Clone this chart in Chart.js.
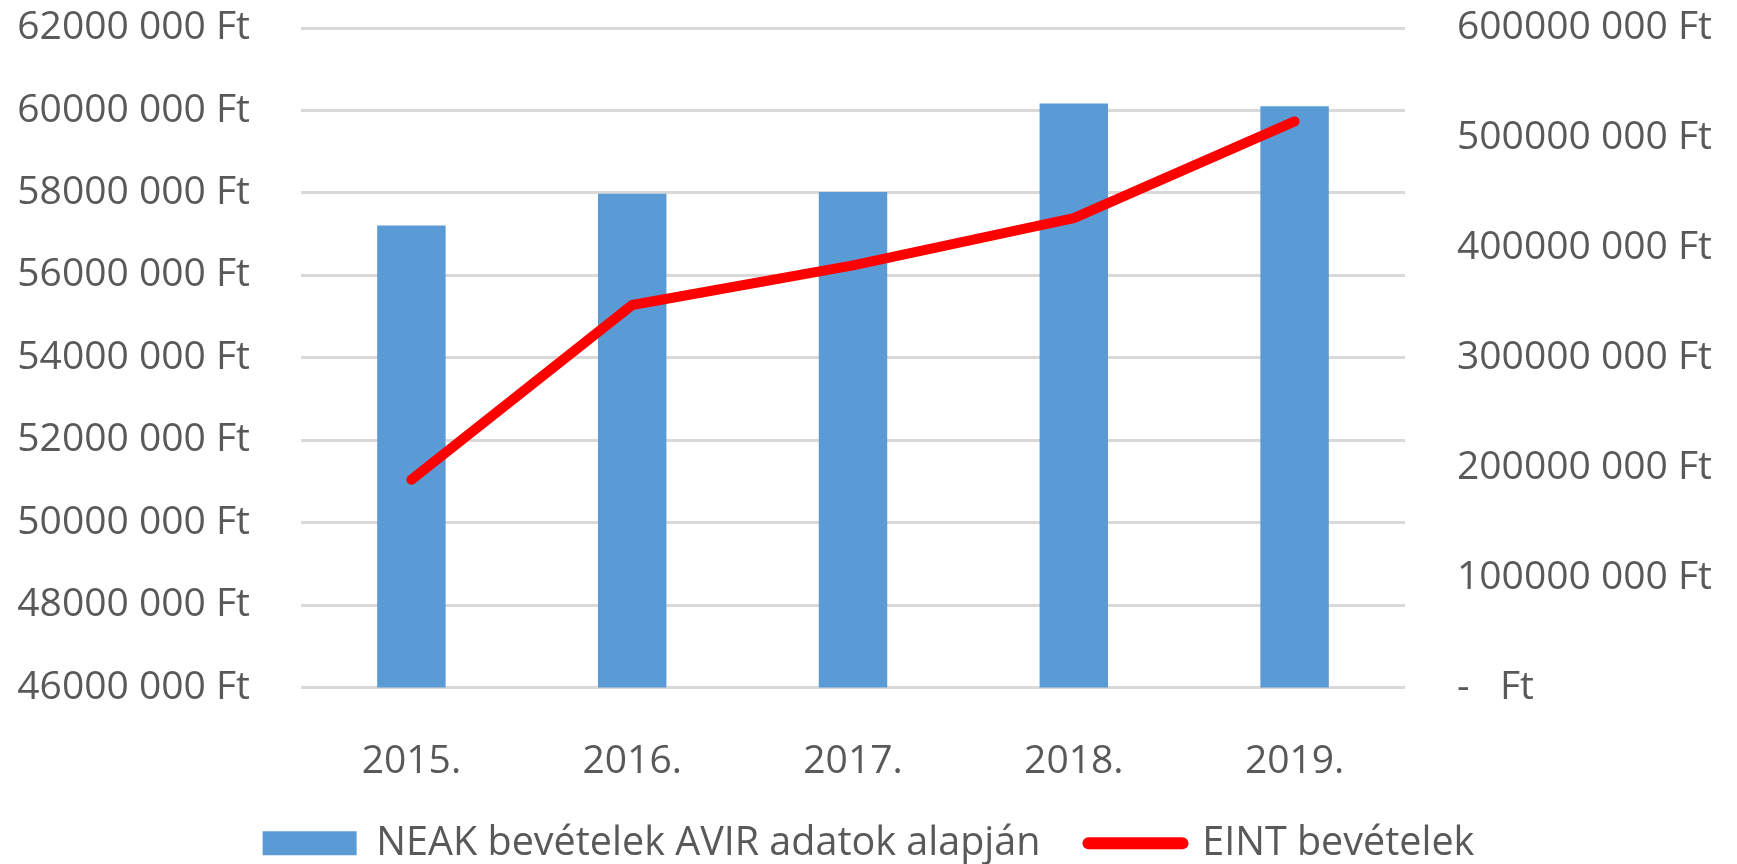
<!DOCTYPE html>
<html>
<head>
<meta charset="utf-8">
<script src="https://cdn.jsdelivr.net/npm/chart.js@4"></script>
<style>
  html, body { margin: 0; padding: 0; background: #ffffff; }
  #wrap { width: 1737px; height: 864px; position: relative; }
</style>
</head>
<body>
<div id="wrap"><canvas id="c" width="1737" height="864"></canvas></div>
<script>
// ---- data ----
const categories = ['2015.', '2016.', '2017.', '2018.', '2019.'];
const neakValues = [57210000, 57980000, 58020000, 60170000, 60100000];
const eintValues = [189000000, 348000000, 384000000, 427000000, 515000000];
const seriesNames = ['NEAK bevételek AVIR adatok alapján', 'EINT bevételek'];
const leftTickLabels = ['46000 000 Ft', '48000 000 Ft', '50000 000 Ft', '52000 000 Ft', '54000 000 Ft',
                        '56000 000 Ft', '58000 000 Ft', '60000 000 Ft', '62000 000 Ft'];
const rightTickLabels = ['-   Ft', '100000 000 Ft', '200000 000 Ft', '300000 000 Ft',
                         '400000 000 Ft', '500000 000 Ft', '600000 000 Ft'];

const BAR_COLOR = '#5B9BD5';
const LINE_COLOR = '#FF0000';
const TEXT_COLOR = '#595959';
const GRID_COLOR = '#D9D9D9';
const FONT = 'Open Sans';
const TRANSPARENT = 'rgba(0,0,0,0)';

Chart.defaults.font.family = FONT;
Chart.defaults.color = TEXT_COLOR;

new Chart(document.getElementById('c'), {
  type: 'bar',
  data: {
    labels: categories,
    datasets: [
      {
        type: 'bar',
        label: seriesNames[0],
        data: neakValues,
        backgroundColor: BAR_COLOR,
        borderWidth: 0,
        yAxisID: 'y',
        categoryPercentage: 1.0,
        barPercentage: 0.31,
        order: 2
      },
      {
        type: 'line',
        label: seriesNames[1],
        data: eintValues,
        borderColor: LINE_COLOR,
        backgroundColor: LINE_COLOR,
        borderWidth: 10,
        borderCapStyle: 'round',
        borderJoinStyle: 'round',
        pointRadius: 0,
        tension: 0,
        yAxisID: 'y1',
        order: 1
      }
    ]
  },
  options: {
    responsive: false,
    animation: false,
    layout: { padding: { top: 28, bottom: -9, left: 0, right: 0 } },
    plugins: {
      tooltip: { enabled: false },
      legend: {
        position: 'bottom',
        labels: {
          usePointStyle: true,
          pointStyleWidth: 94,
          boxHeight: 24,
          padding: 48,
          color: TEXT_COLOR,
          font: { size: 39.5, family: FONT },
          generateLabels: function(chart) {
            return [
              { text: seriesNames[0], fillStyle: BAR_COLOR, strokeStyle: BAR_COLOR, lineWidth: 0,
                pointStyle: 'rect', datasetIndex: 0, hidden: false, fontColor: TEXT_COLOR },
              { text: seriesNames[1], fillStyle: LINE_COLOR, strokeStyle: LINE_COLOR, lineWidth: 12,
                lineCap: 'round', pointStyle: 'line', datasetIndex: 1, hidden: false, fontColor: TEXT_COLOR }
            ];
          }
        }
      }
    },
    scales: {
      x: {
        grid: { display: false, drawTicks: false },
        border: { display: false },
        ticks: { padding: 51, color: TEXT_COLOR, font: { size: 39, family: FONT } },
        afterFit: function(scale) { scale.height = 88; }
      },
      y: {
        position: 'left',
        min: 46000000,
        max: 62000000,
        grid: { color: GRID_COLOR, lineWidth: 3, drawTicks: true, tickLength: 51, tickColor: TRANSPARENT },
        border: { display: false },
        ticks: {
          stepSize: 2000000,
          padding: 0,
          color: TEXT_COLOR,
          font: { size: 39, family: FONT },
          callback: function(value, index) { return leftTickLabels[index]; }
        },
        afterFit: function(scale) { scale.width = 301; }
      },
      y1: {
        position: 'right',
        min: 0,
        max: 600000000,
        grid: { drawOnChartArea: false, drawTicks: true, tickLength: 52, tickColor: TRANSPARENT },
        border: { display: false },
        ticks: {
          stepSize: 100000000,
          padding: 0,
          color: TEXT_COLOR,
          font: { size: 39, family: FONT },
          callback: function(value, index) { return rightTickLabels[index]; }
        },
        afterFit: function(scale) { scale.width = 332; }
      }
    }
  }
});
</script>
</body>
</html>
